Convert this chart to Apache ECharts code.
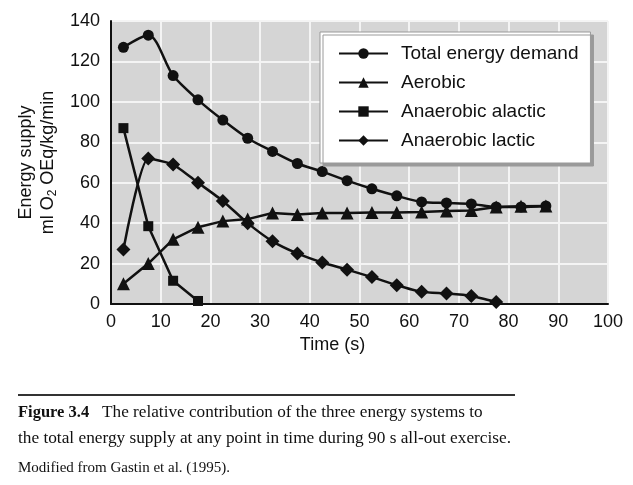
<!DOCTYPE html>
<html>
<head>
<meta charset="utf-8">
<script src="https://cdn.jsdelivr.net/npm/echarts@6/dist/echarts.min.js"></script>
<style>
html,body{margin:0;padding:0;background:#fff;}
#chart{width:633px;height:485px;}
</style>
</head>
<body>
<div id="chart"></div>
<script>
// Data
var times = [2.5, 7.5, 12.5, 17.5, 22.5, 27.5, 32.5, 37.5, 42.5, 47.5, 52.5, 57.5, 62.5, 67.5, 72.5, 77.5, 82.5, 87.5];
var totalDemand = [127, 133, 113, 101, 91, 82, 75.5, 69.5, 65.5, 61, 57, 53.5, 50.5, 50, 49.5, 48, 48, 48.5];
var aerobic = [10, 20, 32, 38, 41, 42, 45, 44.3, 45, 45, 45.3, 45.3, 45.5, 46, 46.3, 48, 48.3, 48.5];
var alactic = [87, 38.5, 11.5, 1.5];
var lactic = [27, 72, 69, 60, 51, 40, 31, 25, 20.5, 17, 13.3, 9.3, 6, 5.2, 4, 1];
var xTicks = {min: 0, max: 100, interval: 10};
var yTicks = {min: 0, max: 140, interval: 20};
var seriesNames = ['Total energy demand', 'Aerobic', 'Anaerobic alactic', 'Anaerobic lactic'];

function pairs(vals) {
  return vals.map(function (v, i) { return [times[i], v]; });
}

var FONT = '"Liberation Sans", Arial, Helvetica, sans-serif';
var SERIF = '"Liberation Serif", "Times New Roman", serif';
var INK = '#111';

var chart = echarts.init(document.getElementById('chart'), null, {renderer: 'canvas'});

function lineSeries(name, data, symbol, size, smooth) {
  return {
    name: name,
    type: 'line',
    data: data,
    symbol: symbol,
    symbolSize: size,
    smooth: smooth,
    color: INK,
    itemStyle: {color: INK},
    lineStyle: {color: INK, width: 2.5},
    animation: false
  };
}

chart.setOption({
  backgroundColor: '#ffffff',
  textStyle: {fontFamily: FONT},
  grid: {
    left: 111, right: 25, top: 21, bottom: 181,
    show: true, backgroundColor: '#d5d5d5', borderWidth: 0
  },
  xAxis: {
    type: 'value',
    min: xTicks.min, max: xTicks.max, interval: xTicks.interval,
    axisLine: {show: true, lineStyle: {color: INK, width: 2}},
    axisTick: {show: false},
    splitLine: {show: true, lineStyle: {color: '#f4f4f4', width: 2}},
    axisLabel: {fontSize: 18, color: INK, fontFamily: FONT, margin: 9},
    name: 'Time (s)',
    nameLocation: 'middle',
    nameGap: 30,
    nameTextStyle: {fontSize: 18, color: INK, fontFamily: FONT, padding: [0, 54, 0, 0]}
  },
  yAxis: {
    type: 'value',
    min: yTicks.min, max: yTicks.max, interval: yTicks.interval,
    axisLine: {show: true, lineStyle: {color: INK, width: 2}},
    axisTick: {show: false},
    splitLine: {show: true, lineStyle: {color: '#f4f4f4', width: 2}},
    axisLabel: {fontSize: 18, color: INK, fontFamily: FONT, margin: 11},
    name: '{a|Energy supply}\n{a|ml O}{s|2}{a| OEq/kg/min}',
    nameLocation: 'middle',
    nameRotate: 90,
    nameGap: 43,
    nameTextStyle: {
      color: INK, fontFamily: FONT, align: 'center',
      rich: {
        a: {fontSize: 18, color: INK, fontFamily: FONT, lineHeight: 22},
        s: {fontSize: 12, color: INK, fontFamily: FONT, lineHeight: 22, padding: [10, 0, 0, 0]}
      }
    }
  },
  legend: {
    data: seriesNames,
    orient: 'vertical',
    left: 320, top: 32,
    itemWidth: 49, itemHeight: 13, itemGap: 10,
    padding: [12, 12, 13, 18],
    backgroundColor: '#ffffff',
    borderColor: '#999', borderWidth: 1,
    shadowColor: '#9a9a9a', shadowOffsetX: 3, shadowOffsetY: 3, shadowBlur: 0,
    textStyle: {fontSize: 19, color: INK, fontFamily: FONT, padding: [0, 0, 0, 8]}
  },
  series: [
    lineSeries(seriesNames[0], pairs(totalDemand), 'circle', 11, 0.3),
    lineSeries(seriesNames[1], pairs(aerobic), 'triangle', 13, false),
    lineSeries(seriesNames[2], pairs(alactic), 'rect', 10, false),
    lineSeries(seriesNames[3], pairs(lactic), 'diamond', 14, 0.2)
  ],
  graphic: [
    {type: 'line', shape: {x1: 18, y1: 395, x2: 515, y2: 395}, style: {stroke: '#333', lineWidth: 2}},
    {type: 'text', left: 18, top: 404, style: {
      text: '{b|Figure 3.4}   The relative contribution of the three energy systems to',
      fontFamily: SERIF, fontSize: 17.2, fill: INK,
      rich: {b: {fontFamily: SERIF, fontSize: 16.5, fontWeight: 'bold', fill: INK}}
    }},
    {type: 'text', left: 18, top: 430, style: {
      text: 'the total energy supply at any point in time during 90 s all-out exercise.',
      fontFamily: SERIF, fontSize: 17.3, fill: INK
    }},
    {type: 'text', left: 18, top: 461, style: {
      text: 'Modified from Gastin et al. (1995).',
      fontFamily: SERIF, fontSize: 15, fill: INK
    }}
  ]
});
</script>
</body>
</html>
